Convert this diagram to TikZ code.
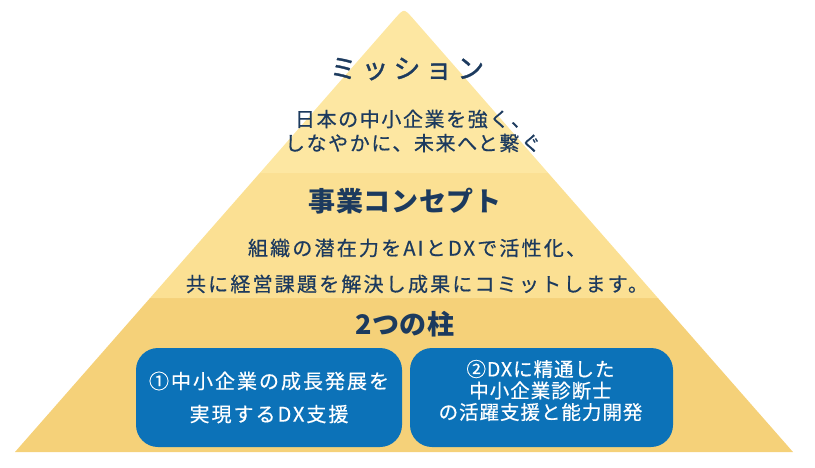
\documentclass[tikz,border=0pt]{standalone}
\usepackage{fontspec}
\newfontfamily\jpmission[LetterSpace=18,FakeBold=1.2]{Noto Sans CJK JP}
\newfontfamily\jpbody[LetterSpace=8,FakeBold=0.6]{Noto Sans CJK JP}
\newfontfamily\jpbodyw[LetterSpace=11,FakeBold=0.6]{Noto Sans CJK JP}
\newfontfamily\jphead[LetterSpace=2]{Noto Sans CJK JP}
\newfontfamily\jpboxA[LetterSpace=10,FakeBold=0.5]{Noto Sans CJK JP}
\newfontfamily\jpboxB[LetterSpace=5,FakeBold=0.5]{Noto Sans CJK JP}
\definecolor{tierA}{HTML}{FDE7A2}
\definecolor{tierB}{HTML}{FBE093}
\definecolor{tierC}{HTML}{F5D179}
\definecolor{navy}{HTML}{1C3A5E}
\definecolor{boxblue}{HTML}{0C72B8}
\tikzset{
  navytext/.style={text=navy, inner sep=0pt, align=center},
  pillar/.style={fill=boxblue, rounded corners=22pt, minimum width=266pt, minimum height=99pt, inner sep=0pt},
  whitetext/.style={text=white, inner sep=0pt, align=center}
}
\begin{document}
\begin{tikzpicture}[x=1pt,y=-1pt]
\useasboundingbox (0,0) rectangle (815,467);
% tiers
\fill[tierC] (15,452) -- (150.1,298) -- (657.9,298) -- (793,452) -- cycle;
\fill[tierB] (150.1,298) -- (259.8,173) -- (548.2,173) -- (657.9,298) -- cycle;
\fill[tierA] (259.8,173) -- (395.8,17.6) .. controls (404,8.6) .. (412.2,17.6) -- (548.2,173) -- cycle;
% texts
\node[navytext, font=\jpmission\fontsize{27}{30}\selectfont] (mission) at (407,69) {ミッション};
\node[navytext, font=\jpbody\fontsize{20}{24}\selectfont] (missiontxt) at (413,131) {日本の中小企業を強く、\\しなやかに、未来へと繋ぐ};
\node[navytext, font=\jphead\bfseries\fontsize{27}{30}\selectfont] (concept) at (405,201) {事業コンセプト};
\node[navytext, font=\jpbodyw\fontsize{20}{24}\selectfont] (concept1) at (417,248) {組織の潜在力をAIとDXで活性化、};
\node[navytext, font=\jpbodyw\fontsize{20}{24}\selectfont] (concept2) at (417,284) {共に経営課題を解決し成果にコミットします。};
\node[navytext, font=\jphead\bfseries\fontsize{27}{30}\selectfont] (pillars) at (405,324) {2つの柱};
% boxes
\node[pillar] (box1) at (269,397.5) {};
\node[pillar, minimum width=263pt] (box2) at (541.5,397.5) {};
\node[whitetext, font=\jpboxA\fontsize{20}{33}\selectfont] (t1) at ([xshift=0pt]box1.center) {①中小企業の成長発展を\\実現するDX支援};
\node[whitetext, font=\jpboxB\fontsize{19.5}{21.5}\selectfont] (t2) at ([xshift=-1pt,yshift=7pt]box2.center) {②DXに精通した\\中小企業診断士\\の活躍支援と能力開発};
\end{tikzpicture}
\end{document}
